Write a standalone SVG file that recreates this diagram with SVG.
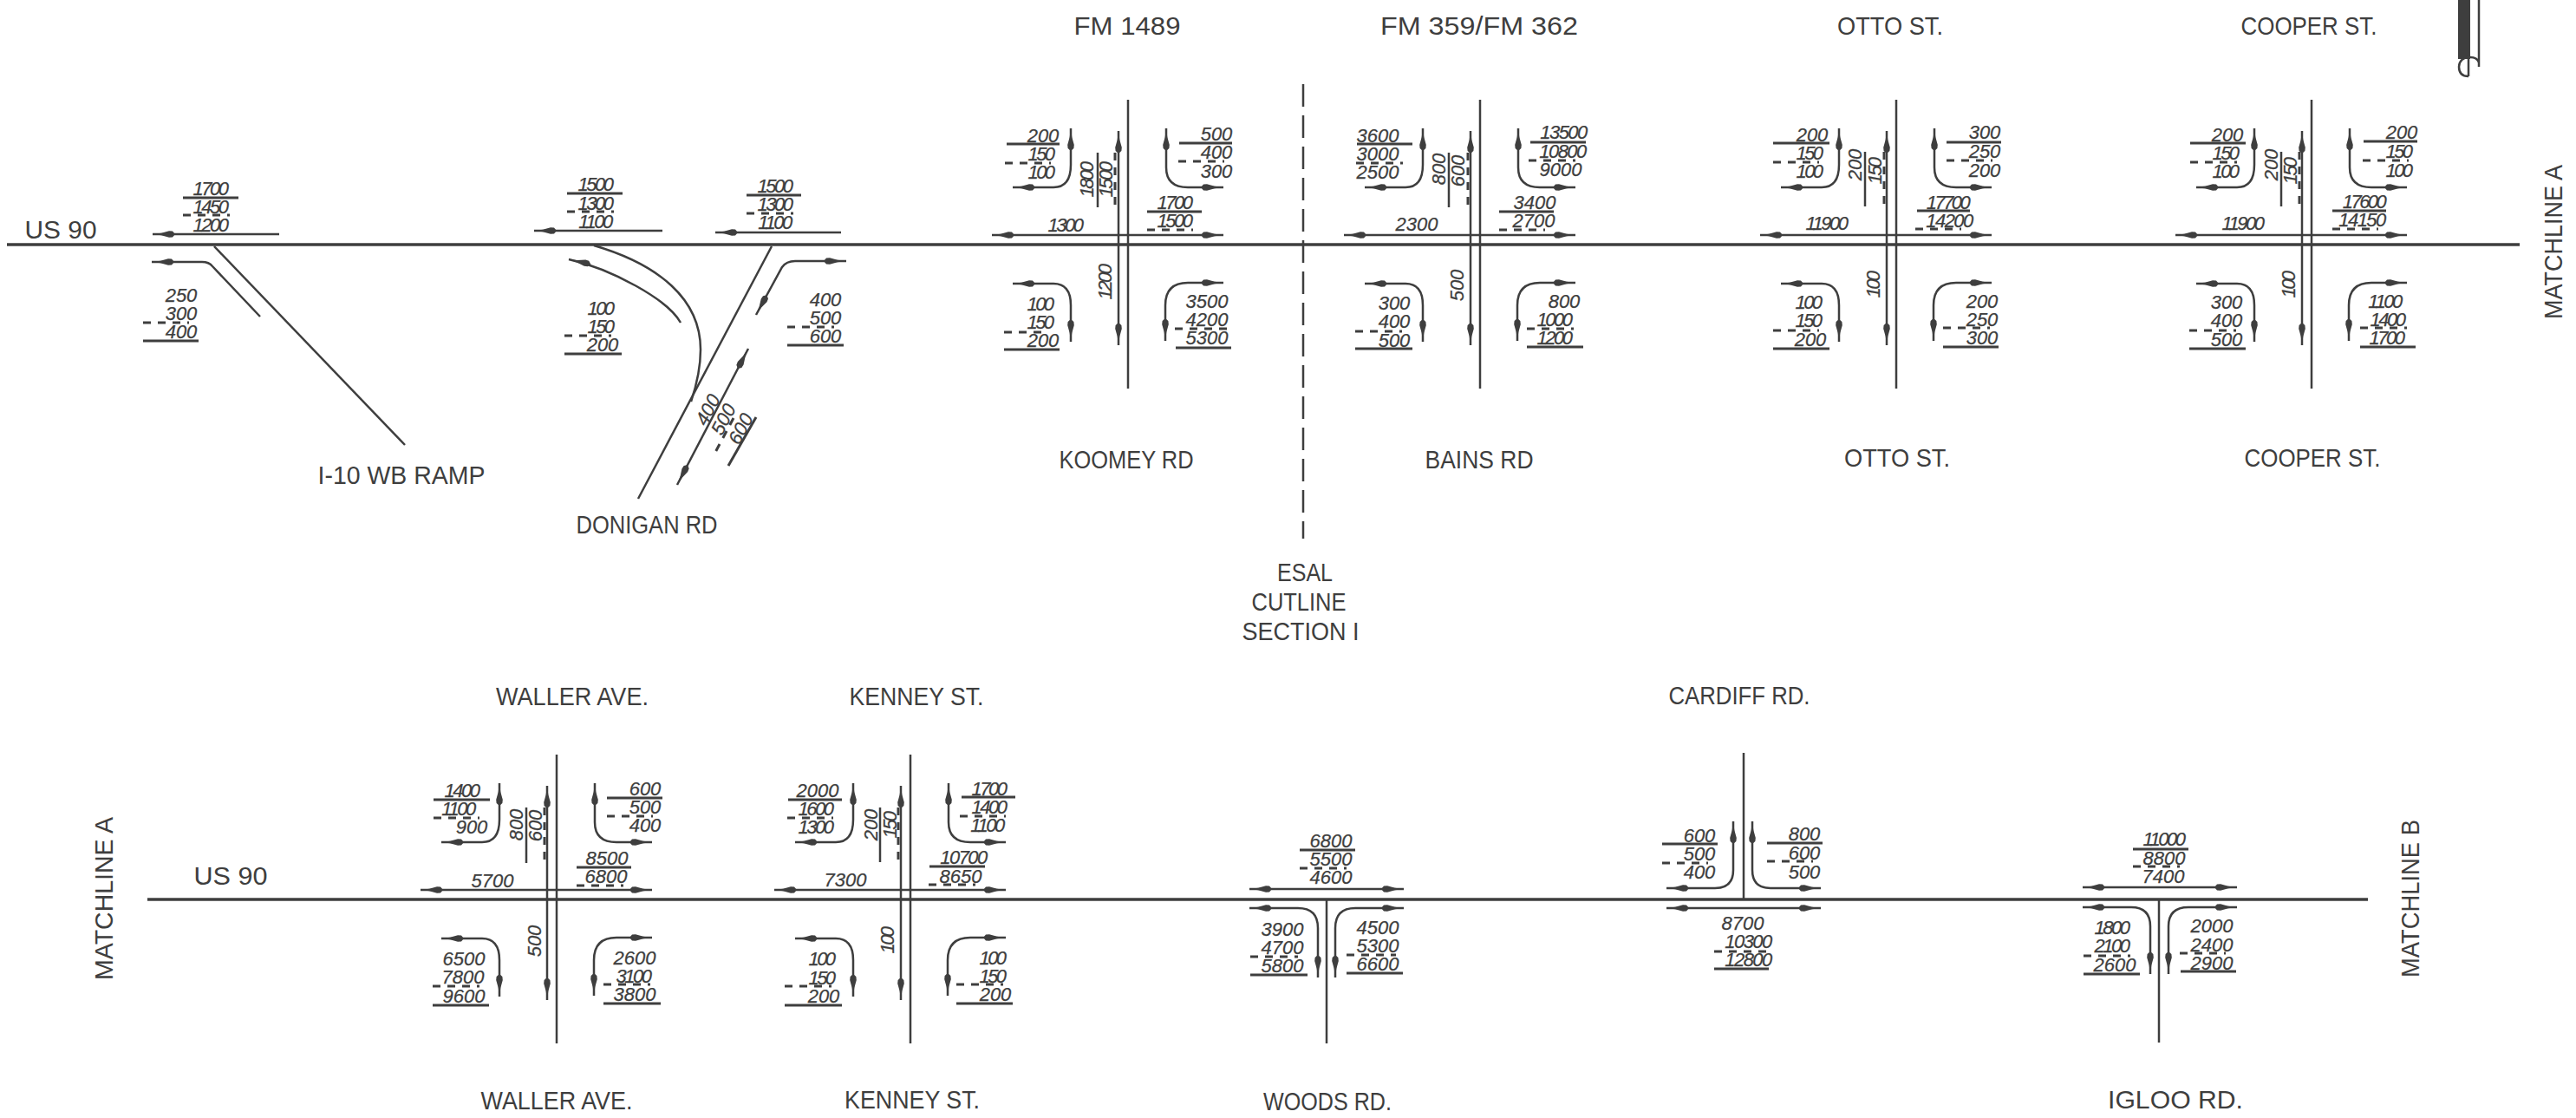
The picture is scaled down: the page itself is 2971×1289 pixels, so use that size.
<svg xmlns="http://www.w3.org/2000/svg" width="2971" height="1289" viewBox="0 0 2971 1289">
<style>
text{font-family:"Liberation Sans",Arial,sans-serif;fill:#3e3e3e}
.l{font-size:29px;text-anchor:middle}
.n{font-size:22px;font-style:italic;text-anchor:middle;stroke:#3e3e3e;stroke-width:.25}
.o{letter-spacing:-2.5px}
.w{letter-spacing:-1.5px}
.r,.s,.d,.a,.c,.b{fill:none;stroke:#3e3e3e}
.r{stroke-width:3.5}
.c{stroke-width:2.5}
.s{stroke-width:3}
.d{stroke-width:3;stroke-dasharray:9 8}
.a{stroke-width:2.5;marker-start:url(#h);marker-end:url(#h)}
.b{stroke-width:2.5;marker-start:url(#h)}
</style>
<defs>
<marker id="h" markerUnits="userSpaceOnUse" markerWidth="30" markerHeight="12" viewBox="-28 -6 30 12" refX="0" refY="0" orient="auto-start-reverse">
<path d="M0 0L-10 -1.3L-19 -3.8L-23 -3.4L-26 0L-23 3.4L-19 3.8L-10 1.3Z" fill="#3e3e3e"/>
</marker>
<g id="x4">
<path class="c" d="M0 -167V166"/>
<path class="a" d="M-11 -131V116"/>
<path class="a" d="M-133 -66H-86Q-66 -66 -66 -92V-134"/>
<path class="a" d="M44 -134V-89Q44 -66 69 -66H110"/>
<path class="a" d="M-133 45H-86Q-66 45 -66 70V112"/>
<path class="a" d="M110 44H69Q43 44 43 70V111"/>
<path class="a" d="M-157 -11H110"/>
</g>
</defs>
<rect width="2971" height="1289" fill="#fff"/>

<g id="connectors">
<path class="r" d="M8 282H2906"/>
<path class="r" d="M170 1037H2731"/>
<path class="c" stroke-dasharray="26 10" d="M1503 97V621"/>
</g>

<g id="binding-mark">
<rect x="2835" y="0" width="14" height="68" fill="#3e3e3e"/>
<path d="M2859 0V77M2849 66Q2857 66 2859 72M2847 66V88M2847 66A11 11 0 0 0 2836 77Q2836 88 2847 88" fill="none" stroke="#3e3e3e" stroke-width="2.5"/>
</g>

<g id="labels">
<text class="l" x="1300" y="40" textLength="123" lengthAdjust="spacingAndGlyphs">FM 1489</text>
<text class="l" x="1706" y="40" textLength="228" lengthAdjust="spacingAndGlyphs">FM 359/FM 362</text>
<text class="l" x="2180" y="40" textLength="122" lengthAdjust="spacingAndGlyphs">OTTO ST.</text>
<text class="l" x="2663" y="40" textLength="157" lengthAdjust="spacingAndGlyphs">COOPER ST.</text>
<text class="l" x="1299" y="540" textLength="155" lengthAdjust="spacingAndGlyphs">KOOMEY RD</text>
<text class="l" x="1706" y="540" textLength="125" lengthAdjust="spacingAndGlyphs">BAINS RD</text>
<text class="l" x="2188" y="538" textLength="122" lengthAdjust="spacingAndGlyphs">OTTO ST.</text>
<text class="l" x="2667" y="538" textLength="157" lengthAdjust="spacingAndGlyphs">COOPER ST.</text>
<text class="l" x="463" y="558" textLength="193" lengthAdjust="spacingAndGlyphs">I-10 WB RAMP</text>
<text class="l" x="746" y="615" textLength="163" lengthAdjust="spacingAndGlyphs">DONIGAN RD</text>
<text class="l" x="70" y="275" textLength="83" lengthAdjust="spacingAndGlyphs">US 90</text>
<text class="l" x="1505" y="670" textLength="64" lengthAdjust="spacingAndGlyphs">ESAL</text>
<text class="l" x="1498" y="704" textLength="109" lengthAdjust="spacingAndGlyphs">CUTLINE</text>
<text class="l" x="1500" y="738" textLength="135" lengthAdjust="spacingAndGlyphs">SECTION I</text>
<text class="l" x="660" y="813" textLength="176" lengthAdjust="spacingAndGlyphs">WALLER AVE.</text>
<text class="l" x="1057" y="813" textLength="155" lengthAdjust="spacingAndGlyphs">KENNEY ST.</text>
<text class="l" x="2006" y="812" textLength="163" lengthAdjust="spacingAndGlyphs">CARDIFF RD.</text>
<text class="l" x="266" y="1020" textLength="85" lengthAdjust="spacingAndGlyphs">US 90</text>
<text class="l" x="642" y="1279" textLength="175" lengthAdjust="spacingAndGlyphs">WALLER AVE.</text>
<text class="l" x="1052" y="1278" textLength="156" lengthAdjust="spacingAndGlyphs">KENNEY ST.</text>
<text class="l" x="1531" y="1280" textLength="148" lengthAdjust="spacingAndGlyphs">WOODS RD.</text>
<text class="l" x="2509" y="1278" textLength="156" lengthAdjust="spacingAndGlyphs">IGLOO RD.</text>
<text class="l" transform="rotate(-90 2955 279)" x="2955" y="279" textLength="178" lengthAdjust="spacingAndGlyphs">MATCHLINE A</text>
<text class="l" transform="rotate(-90 130 1036)" x="130" y="1036" textLength="188" lengthAdjust="spacingAndGlyphs">MATCHLINE A</text>
<text class="l" transform="rotate(-90 2790 1036)" x="2790" y="1036" textLength="182" lengthAdjust="spacingAndGlyphs">MATCHLINE B</text>
</g>

<g id="i10-ramp">
<path class="c" d="M247 284L467 513"/>
<path class="b" d="M175 302H233Q241 302 245 307L300 365"/>
<path class="b" d="M176 270H322"/>
<text class="n o" x="242" y="225">1700</text><path class="s" d="M211 228H275"/>
<text class="n o" x="242" y="246">1450</text><path class="d" d="M211 248H265"/>
<text class="n o" x="242" y="267">1200</text>
<text class="n" x="209" y="348">250</text>
<text class="n" x="209" y="369">300</text><path class="d" d="M165 372H218"/>
<text class="n" x="209" y="390">400</text><path class="s" d="M165 393H229"/>
</g>

<g id="donigan">
<path class="c" d="M890 284L736 575"/>
<path class="c" d="M685 283C760 305 808 345 808 403C808 425 803 445 797 463"/>
<path class="b" d="M656 299C705 310 770 345 785 372"/>
<path class="b" d="M616 266H764"/>
<path class="b" d="M825 268H970"/>
<path class="a" d="M976 301H917Q907 301 902 308L872 363"/>
<path class="a" d="M863 402L781 559"/>
<text class="n o" x="686" y="220">1500</text><path class="s" d="M654 223H718"/>
<text class="n o" x="686" y="242">1300</text><path class="d" d="M654 244H708"/>
<text class="n o" x="686" y="263">1100</text>
<text class="n o" x="893" y="222">1500</text><path class="s" d="M861 225H924"/>
<text class="n o" x="893" y="243">1300</text><path class="d" d="M861 246H915"/>
<text class="n o" x="893" y="264">1100</text>
<text class="n o" x="692" y="363">100</text>
<text class="n o" x="692" y="384">150</text><path class="d" d="M651 387H705"/>
<text class="n" x="695" y="405">200</text><path class="s" d="M651 408H717"/>
<text class="n" x="952" y="353">400</text>
<text class="n" x="952" y="374">500</text><path class="d" d="M908 377H962"/>
<text class="n" x="952" y="395">600</text><path class="s" d="M908 398H973"/>
<text class="n" transform="rotate(-62 823 476)" x="823" y="476">400</text>
<text class="n" transform="rotate(-62 841 487)" x="841" y="487">500</text>
<path class="d" d="M846 482L822 527"/>
<text class="n" transform="rotate(-62 861 498)" x="861" y="498">600</text>
<path class="s" d="M872 481L840 537"/>
</g>

<g id="koomey">
<use href="#x4" transform="translate(1301 282)"/>
<text class="n" x="1203" y="164">200</text><path class="s" d="M1161 166H1222"/>
<text class="n o" x="1200" y="185">150</text><path class="d" d="M1159 188H1212"/>
<text class="n o" x="1200" y="206">100</text>
<text class="n" x="1403" y="162">500</text><path class="s" d="M1360 165H1421"/>
<text class="n" x="1403" y="183">400</text><path class="d" d="M1359 186H1412"/>
<text class="n" x="1403" y="205">300</text>
<text class="n o" x="1354" y="241">1700</text><path class="s" d="M1323 244H1386"/>
<text class="n o" x="1354" y="262">1500</text><path class="d" d="M1323 265H1376"/>
<text class="n o" x="1228" y="267">1300</text>
<text class="n o" transform="rotate(-90 1261 208)" x="1261" y="208">1800</text><path class="c" d="M1266 176V239"/>
<text class="n o" transform="rotate(-90 1283 208)" x="1283" y="208">1500</text><path class="d" d="M1286 176V240"/>
<text class="n o" transform="rotate(-90 1282 326)" x="1282" y="326">1200</text>
<text class="n o" x="1199" y="358">100</text>
<text class="n o" x="1199" y="379">150</text><path class="d" d="M1158 383H1202"/>
<text class="n" x="1203" y="400">200</text><path class="s" d="M1158 403H1222"/>
<text class="n" x="1392" y="355">3500</text>
<text class="n" x="1392" y="376">4200</text><path class="d" d="M1355 379H1415"/>
<text class="n" x="1392" y="397">5300</text><path class="s" d="M1356 401H1420"/>
</g>

<g id="bains">
<use href="#x4" transform="translate(1707 282)"/>
<text class="n" x="1589" y="164">3600</text><path class="s" d="M1565 166H1629"/>
<text class="n" x="1589" y="185">3000</text><path class="d" d="M1564 188H1618"/>
<text class="n" x="1589" y="206">2500</text>
<text class="n w" x="1803" y="160">13500</text><path class="s" d="M1765 164H1829"/>
<text class="n w" x="1802" y="182">10800</text><path class="d" d="M1763 185H1817"/>
<text class="n" x="1800" y="203">9000</text>
<text class="n" x="1770" y="241">3400</text><path class="s" d="M1729 244H1792"/>
<text class="n" x="1769" y="262">2700</text><path class="d" d="M1729 265H1782"/>
<text class="n" x="1634" y="266">2300</text>
<text class="n" transform="rotate(-90 1667 195)" x="1667" y="195">800</text><path class="c" d="M1671 176V239"/>
<text class="n" transform="rotate(-90 1689 197)" x="1689" y="197">600</text><path class="d" d="M1693 176V240"/>
<text class="n" transform="rotate(-90 1688 329)" x="1688" y="329">500</text>
<text class="n" x="1608" y="357">300</text>
<text class="n" x="1608" y="378">400</text><path class="d" d="M1563 382H1617"/>
<text class="n" x="1608" y="400">500</text><path class="s" d="M1563 402H1629"/>
<text class="n" x="1804" y="355">800</text>
<text class="n o" x="1792" y="376">1000</text><path class="d" d="M1761 379H1815"/>
<text class="n o" x="1792" y="397">1200</text><path class="s" d="M1761 400H1826"/>
</g>

<g id="otto">
<use href="#x4" transform="translate(2187 282)"/>
<text class="n" x="2090" y="163">200</text><path class="s" d="M2045 165H2110"/>
<text class="n o" x="2086" y="184">150</text><path class="d" d="M2045 187H2098"/>
<text class="n o" x="2086" y="205">100</text>
<text class="n" x="2289" y="160">300</text><path class="s" d="M2245 164H2308"/>
<text class="n" x="2289" y="182">250</text><path class="d" d="M2245 185H2298"/>
<text class="n" x="2289" y="204">200</text>
<text class="n o" x="2246" y="241">17700</text><path class="s" d="M2211 243H2272"/>
<text class="n w" x="2248" y="262">14200</text><path class="d" d="M2209 264H2262"/>
<text class="n o" x="2106" y="265">11900</text>
<text class="n" transform="rotate(-90 2147 190)" x="2147" y="190">200</text><path class="c" d="M2151 175V238"/>
<text class="n o" transform="rotate(-90 2170 198)" x="2170" y="198">150</text><path class="d" d="M2173 175V238"/>
<text class="n o" transform="rotate(-90 2168 329)" x="2168" y="329">100</text>
<text class="n o" x="2085" y="356">100</text>
<text class="n o" x="2085" y="377">150</text><path class="d" d="M2045 381H2098"/>
<text class="n" x="2088" y="399">200</text><path class="s" d="M2045 402H2110"/>
<text class="n" x="2286" y="355">200</text>
<text class="n" x="2286" y="376">250</text><path class="d" d="M2241 378H2295"/>
<text class="n" x="2286" y="397">300</text><path class="s" d="M2241 400H2305"/>
</g>

<g id="cooper">
<use href="#x4" transform="translate(2666 282)"/>
<text class="n" x="2569" y="163">200</text><path class="s" d="M2526 165H2590"/>
<text class="n o" x="2566" y="184">150</text><path class="d" d="M2526 187H2580"/>
<text class="n o" x="2566" y="205">100</text>
<text class="n" x="2770" y="160">200</text><path class="s" d="M2726 163H2788"/>
<text class="n o" x="2766" y="182">150</text><path class="d" d="M2725 185H2778"/>
<text class="n o" x="2766" y="204">100</text>
<text class="n o" x="2726" y="240">17600</text><path class="s" d="M2690 243H2752"/>
<text class="n w" x="2724" y="261">14150</text><path class="d" d="M2690 264H2743"/>
<text class="n o" x="2586" y="265">11900</text>
<text class="n" transform="rotate(-90 2627 190)" x="2627" y="190">200</text><path class="c" d="M2631 175V238"/>
<text class="n o" transform="rotate(-90 2649 198)" x="2649" y="198">150</text><path class="d" d="M2652 175V238"/>
<text class="n o" transform="rotate(-90 2647 329)" x="2647" y="329">100</text>
<text class="n" x="2568" y="356">300</text>
<text class="n" x="2568" y="377">400</text><path class="d" d="M2525 381H2579"/>
<text class="n" x="2568" y="399">500</text><path class="s" d="M2525 402H2590"/>
<text class="n o" x="2750" y="355">1100</text>
<text class="n o" x="2753" y="376">1400</text><path class="d" d="M2722 378H2776"/>
<text class="n o" x="2752" y="397">1700</text><path class="s" d="M2722 400H2786"/>
</g>

<g id="waller">
<use href="#x4" transform="translate(642 1037)"/>
<text class="n o" x="532" y="919">1400</text><path class="s" d="M500 922H565"/>
<text class="n o" x="528" y="940">1100</text><path class="d" d="M500 943H553"/>
<text class="n" x="544" y="961">900</text>
<text class="n" x="744" y="917">600</text><path class="s" d="M700 920H764"/>
<text class="n" x="744" y="938">500</text><path class="d" d="M700 941H753"/>
<text class="n" x="744" y="959">400</text>
<text class="n" x="700" y="997">8500</text><path class="s" d="M665 1000H728"/>
<text class="n" x="699" y="1018">6800</text><path class="d" d="M665 1021H719"/>
<text class="n" x="568" y="1023">5700</text>
<text class="n" transform="rotate(-90 603 951)" x="603" y="951">800</text><path class="c" d="M607 931V995"/>
<text class="n" transform="rotate(-90 625 952)" x="625" y="952">600</text><path class="d" d="M628 931V995"/>
<text class="n" transform="rotate(-90 624 1085)" x="624" y="1085">500</text>
<text class="n" x="535" y="1113">6500</text>
<text class="n" x="534" y="1134">7800</text><path class="d" d="M499 1137H553"/>
<text class="n" x="535" y="1156">9600</text><path class="s" d="M499 1159H564"/>
<text class="n" x="732" y="1112">2600</text>
<text class="n o" x="730" y="1133">3100</text><path class="d" d="M696 1135H750"/>
<text class="n" x="732" y="1154">3800</text><path class="s" d="M696 1157H762"/>
</g>

<g id="kenney">
<use href="#x4" transform="translate(1050 1037)"/>
<text class="n" x="943" y="919">2000</text><path class="s" d="M909 922H971"/>
<text class="n o" x="940" y="940">1600</text><path class="d" d="M908 943H961"/>
<text class="n o" x="940" y="961">1300</text>
<text class="n o" x="1140" y="917">1700</text><path class="s" d="M1109 919H1171"/>
<text class="n o" x="1140" y="938">1400</text><path class="d" d="M1107 941H1160"/>
<text class="n o" x="1138" y="959">1100</text>
<text class="n w" x="1111" y="996">10700</text><path class="s" d="M1072 999H1136"/>
<text class="n" x="1108" y="1018">8650</text><path class="d" d="M1071 1020H1125"/>
<text class="n" x="975" y="1022">7300</text>
<text class="n" transform="rotate(-90 1012 951)" x="1012" y="951">200</text><path class="c" d="M1015 931V994"/>
<text class="n o" transform="rotate(-90 1034 952)" x="1034" y="952">150</text><path class="d" d="M1036 931V994"/>
<text class="n o" transform="rotate(-90 1031 1085)" x="1031" y="1085">100</text>
<text class="n o" x="947" y="1113">100</text>
<text class="n o" x="947" y="1135">150</text><path class="d" d="M905 1137H959"/>
<text class="n" x="950" y="1156">200</text><path class="s" d="M905 1159H971"/>
<text class="n o" x="1144" y="1112">100</text>
<text class="n o" x="1144" y="1133">150</text><path class="d" d="M1103 1135H1157"/>
<text class="n" x="1148" y="1154">200</text><path class="s" d="M1103 1157H1168"/>
</g>

<g id="woods">
<path class="c" d="M1530 1037V1203"/>
<path class="a" d="M1441 1025H1619"/>
<path class="a" d="M1441 1047H1497Q1520 1047 1520 1070V1127"/>
<path class="a" d="M1619 1047H1563Q1540 1047 1540 1070V1127"/>
<text class="n" x="1535" y="977">6800</text><path class="s" d="M1499 980H1563"/>
<text class="n" x="1535" y="998">5500</text><path class="d" d="M1499 1001H1553"/>
<text class="n" x="1535" y="1019">4600</text>
<text class="n" x="1479" y="1079">3900</text>
<text class="n" x="1479" y="1100">4700</text><path class="d" d="M1442 1103H1497"/>
<text class="n" x="1479" y="1121">5800</text><path class="s" d="M1442 1124H1508"/>
<text class="n" x="1589" y="1077">4500</text>
<text class="n" x="1589" y="1098">5300</text><path class="d" d="M1553 1101H1610"/>
<text class="n" x="1589" y="1119">6600</text><path class="s" d="M1553 1122H1618"/>
</g>

<g id="cardiff">
<path class="c" d="M2011 868V1037"/>
<path class="a" d="M1999 947V1003Q1999 1024 1978 1024H1922"/>
<path class="a" d="M2021 947V1003Q2021 1024 2042 1024H2100"/>
<path class="a" d="M1922 1047H2100"/>
<text class="n" x="1960" y="971">600</text><path class="s" d="M1917 973H1981"/>
<text class="n" x="1960" y="992">500</text><path class="d" d="M1917 995H1970"/>
<text class="n" x="1960" y="1013">400</text>
<text class="n" x="2081" y="969">800</text><path class="s" d="M2038 972H2102"/>
<text class="n" x="2081" y="991">600</text><path class="d" d="M2038 993H2091"/>
<text class="n" x="2081" y="1013">500</text>
<text class="n" x="2010" y="1072">8700</text>
<text class="n w" x="2016" y="1093">10300</text><path class="d" d="M1977 1097H2040"/>
<text class="n w" x="2016" y="1114">12800</text><path class="s" d="M1977 1117H2040"/>
</g>

<g id="igloo">
<path class="c" d="M2490 1037V1202"/>
<path class="a" d="M2402 1023H2580"/>
<path class="a" d="M2402 1046H2458Q2480 1046 2480 1068V1123"/>
<path class="a" d="M2580 1046H2524Q2501 1046 2501 1068V1123"/>
<text class="n o" x="2495" y="975">11000</text><path class="s" d="M2460 979H2524"/>
<text class="n" x="2496" y="997">8800</text><path class="d" d="M2460 999H2514"/>
<text class="n" x="2495" y="1018">7400</text>
<text class="n o" x="2435" y="1077">1800</text>
<text class="n o" x="2435" y="1098">2100</text><path class="d" d="M2403 1102H2457"/>
<text class="n" x="2439" y="1120">2600</text><path class="s" d="M2403 1123H2468"/>
<text class="n" x="2551" y="1075">2000</text>
<text class="n" x="2551" y="1097">2400</text><path class="d" d="M2514 1099H2567"/>
<text class="n" x="2551" y="1118">2900</text><path class="s" d="M2515 1120H2579"/>
</g>
</svg>
